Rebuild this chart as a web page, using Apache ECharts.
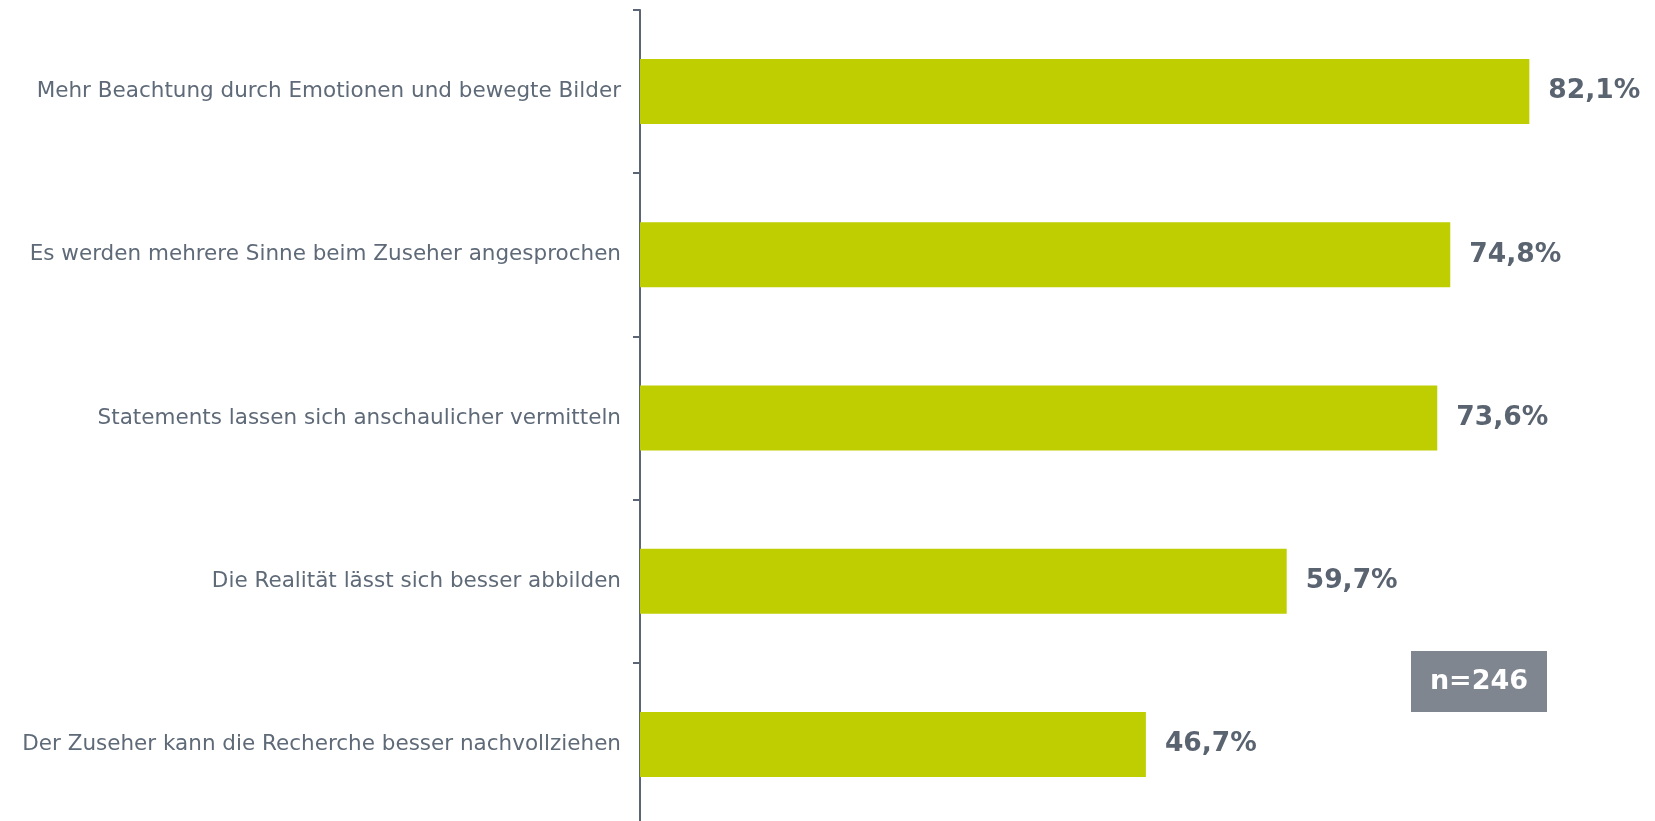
<!DOCTYPE html>
<html>
<head>
<meta charset="utf-8">
<script src="https://cdn.jsdelivr.net/npm/echarts@6/dist/echarts.min.js"></script>
<style>
  html, body { margin: 0; padding: 0; background: #fff; }
  #chart { width: 1655px; height: 821px; }
</style>
</head>
<body>
<div id="chart"></div>
<script>
var categories = [
  'Mehr Beachtung durch Emotionen und bewegte Bilder',
  'Es werden mehrere Sinne beim Zuseher angesprochen',
  'Statements lassen sich anschaulicher vermitteln',
  'Die Realität lässt sich besser abbilden',
  'Der Zuseher kann die Recherche besser nachvollziehen'
];
var values = [82.1, 74.8, 73.6, 59.7, 46.7];
var sampleNote = 'n=246';

var myChart = echarts.init(document.getElementById('chart'));
var option = {
  animation: false,
  grid: {
    left: 640,
    right: 0,
    top: 10,
    bottom: -5,
    outerBoundsMode: 'none',
    containLabel: false
  },
  xAxis: {
    type: 'value',
    min: 0,
    max: 93.7,
    show: false
  },
  yAxis: {
    type: 'category',
    inverse: true,
    data: categories,
    axisLine: { show: true, lineStyle: { color: '#5b6573', width: 2 } },
    axisTick: { show: true, length: 7, lineStyle: { color: '#5b6573', width: 2 } },
    axisLabel: {
      margin: 19,
      color: '#5f6a78',
      fontFamily: 'DejaVu Sans',
      fontSize: 21.5
    }
  },
  series: [
    {
      type: 'bar',
      data: values,
      barWidth: 65,
      itemStyle: { color: '#bfce00' },
      label: {
        show: true,
        position: 'right',
        distance: 19,
        color: '#5a6370',
        fontFamily: 'DejaVu Sans',
        fontWeight: 'bold',
        fontSize: 26.5,
        formatter: function (p) {
          return p.value.toFixed(1).replace('.', ',') + '%';
        }
      }
    }
  ],
  graphic: [
    {
      type: 'group',
      left: 1411,
      top: 651,
      children: [
        {
          type: 'rect',
          shape: { x: 0, y: 0, width: 136, height: 61 },
          style: { fill: '#7f868f' }
        },
        {
          type: 'text',
          x: 68,
          y: 31,
          style: {
            text: sampleNote,
            fill: '#fff',
            font: 'bold 27px "DejaVu Sans"',
            align: 'center',
            verticalAlign: 'middle'
          }
        }
      ]
    }
  ]
};
myChart.setOption(option, true);
</script>
</body>
</html>
